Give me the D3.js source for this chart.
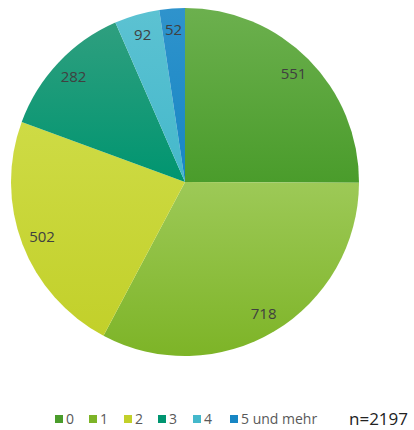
<!DOCTYPE html>
<html>
<head>
<meta charset="utf-8">
<script src="https://cdn.jsdelivr.net/npm/d3@7"></script>
<style>
  html, body { margin: 0; padding: 0; background: #fff; }
  svg { display: block; }
</style>
</head>
<body>
<svg id="chart" width="414" height="430"></svg>
<script>
const categories = ["0", "1", "2", "3", "4", "5 und mehr"];
const values = [551, 718, 502, 282, 92, 52];
const colorsTop = ["#6cb04e", "#9dc957", "#cedb45", "#2f9f7f", "#5cc2d2", "#2f93cc"];
const colorsBottom = ["#4a9c2b", "#7db427", "#c2d02a", "#009570", "#44b8cb", "#1786c4"];
const totalLabel = "n=2197";

const svg = d3.select("#chart");
const cx = 185, cy = 182, r = 174;

const defs = svg.append("defs");
categories.forEach((c, i) => {
  const g = defs.append("linearGradient")
    .attr("id", "grad" + i)
    .attr("x1", 0).attr("y1", 0).attr("x2", 0).attr("y2", 1);
  g.append("stop").attr("offset", "0%").attr("stop-color", colorsTop[i]);
  g.append("stop").attr("offset", "100%").attr("stop-color", colorsBottom[i]);
});

const pie = d3.pie().sort(null).value(d => d);
const arcs = pie(values);
const arc = d3.arc().innerRadius(0).outerRadius(r);
const labelArc = d3.arc().innerRadius(r * 0.88).outerRadius(r * 0.88);

const g = svg.append("g").attr("transform", `translate(${cx},${cy})`);
g.selectAll("path.slice")
  .data(arcs)
  .join("path")
  .attr("class", "slice")
  .attr("d", arc)
  .attr("fill", (d, i) => `url(#grad${i})`);

g.selectAll("text.lbl")
  .data(arcs)
  .join("text")
  .attr("class", "lbl")
  .attr("transform", d => `translate(${labelArc.centroid(d)})`)
  .attr("text-anchor", "middle")
  .attr("dy", "0.35em")
  .attr("font-family", "'Open Sans', 'Liberation Sans', sans-serif")
  .attr("font-size", 15)
  .attr("fill", "#404040")
  .text(d => d.data);

// Legend
const legendX = [55, 89, 124, 158, 193, 230];
const lg = svg.append("g").attr("transform", "translate(0,419)");
categories.forEach((c, i) => {
  const item = lg.append("g").attr("transform", `translate(${legendX[i]},0)`);
  item.append("rect").attr("x", 0).attr("y", -4).attr("width", 8).attr("height", 8)
    .attr("fill", colorsBottom[i]);
  item.append("text").attr("x", 11).attr("dy", "0.36em")
    .attr("font-family", "'Open Sans', 'Liberation Sans', sans-serif")
    .attr("font-size", 14)
    .attr("fill", "#595959")
    .text(c);
});
svg.append("text")
  .attr("x", 349).attr("y", 419).attr("dy", "0.36em")
  .attr("font-family", "'Open Sans', 'Liberation Sans', sans-serif")
  .attr("font-size", 17)
  .attr("fill", "#222")
  .text(totalLabel);
</script>
</body>
</html>
